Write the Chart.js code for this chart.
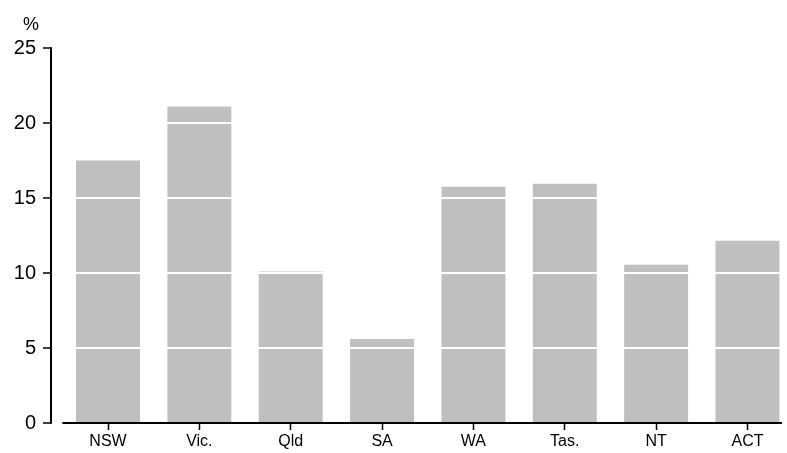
<!DOCTYPE html>
<html>
<head>
<meta charset="utf-8">
<script src="https://cdn.jsdelivr.net/npm/chart.js@4"></script>
<style>
  html, body { margin: 0; padding: 0; background: #fff; }
  #wrap { width: 787px; height: 453px; }
</style>
</head>
<body>
<div id="wrap"><canvas id="chart"></canvas></div>
<script>
const categories = ["NSW", "Vic.", "Qld", "SA", "WA", "Tas.", "NT", "ACT"];
const shares = [17.5, 21.1, 10.1, 5.6, 15.75, 15.95, 10.55, 12.15];
const yTicks = [0, 5, 10, 15, 20, 25];

const fontFamily = "'Liberation Sans', Arial, sans-serif";

// draws both axis lines (the x one starts clear of the y axis) and the unit label
const axisExtras = {
    id: "axisExtras",
    afterDraw(chart) {
        const { ctx, chartArea, scales } = chart;
        const x0 = scales.x.getPixelForValue(-0.5);
        const y0 = scales.y.getPixelForValue(0);
        const yTop = scales.y.getPixelForValue(25);
        ctx.save();
        ctx.strokeStyle = "#000";
        ctx.lineWidth = 2;
        ctx.beginPath();
        ctx.moveTo(x0, y0);
        ctx.lineTo(chartArea.right, y0);
        ctx.stroke();

        ctx.beginPath();
        ctx.moveTo(chartArea.left, yTop - 0.75);
        ctx.lineTo(chartArea.left, y0 + 0.75);
        ctx.stroke();

        ctx.fillStyle = "#000";
        ctx.font = "18px " + fontFamily;
        ctx.textAlign = "center";
        ctx.textBaseline = "middle";
        ctx.fillText("%", chartArea.left - 20, chartArea.top - 23);
        ctx.restore();
    }
};

new Chart(document.getElementById("chart"), {
    type: "bar",
    data: {
        datasets: [{
            data: shares.map((v, i) => ({ x: i, y: v })),
            backgroundColor: "#bfbfbf",
            borderWidth: 0,
            barPercentage: 0.7,
            categoryPercentage: 1
        }]
    },
    options: {
        responsive: true,
        maintainAspectRatio: false,
        animation: false,
        layout: { padding: { top: 48, right: 5, bottom: 0, left: 0 } },
        plugins: { legend: { display: false }, tooltip: { enabled: false } },
        scales: {
            x: {
                type: "linear",
                min: -0.624,
                max: 7.378,
                offset: false,
                afterFit: s => { s.height = 30; },
                border: { display: false },
                grid: {
                    drawOnChartArea: false,
                    offset: false,
                    tickLength: 7,
                    tickColor: "#000",
                    tickWidth: 1.5
                },
                ticks: {
                    stepSize: 1,
                    includeBounds: false,
                    autoSkip: false,
                    maxRotation: 0,
                    padding: 2,
                    color: "#000",
                    font: { family: fontFamily, size: 16 },
                    callback: v => categories[v] ?? ""
                }
            },
            y: {
                min: 0,
                max: 25,
                afterFit: s => { s.width = 51; },
                afterBuildTicks: s => { s.ticks = yTicks.map(v => ({ value: v })); },
                border: { display: false },
                grid: {
                    z: 1,
                    lineWidth: 2,
                    color: c => (c.tick && c.tick.value === 0) ? "rgba(0,0,0,0)" : "#fff",
                    tickLength: 8,
                    tickColor: "#000",
                    tickWidth: 1.5
                },
                ticks: {
                    padding: 7,
                    color: "#000",
                    font: { family: fontFamily, size: 20 }
                }
            }
        }
    },
    plugins: [axisExtras]
});
</script>
</body>
</html>
